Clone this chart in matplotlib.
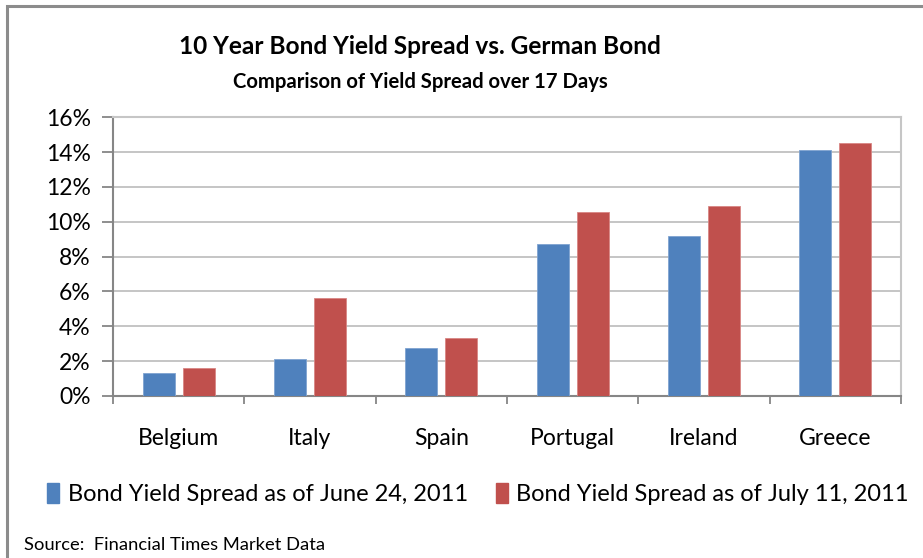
import matplotlib.pyplot as plt
from matplotlib.patches import Rectangle, Patch
import numpy as np

countries = ['Belgium', 'Italy', 'Spain', 'Portugal', 'Ireland', 'Greece']
june_24 = [1.3, 2.1, 2.75, 8.7, 9.2, 14.1]
july_11 = [1.6, 5.6, 3.35, 10.55, 10.9, 14.55]
series_names = ['Bond Yield Spread as of June 24, 2011',
                'Bond Yield Spread as of July 11, 2011']
yticks = [0, 2, 4, 6, 8, 10, 12, 14, 16]

BLUE = '#4F81BD'
RED = '#C0504D'

plt.rcParams['font.family'] = ['Lato', 'DejaVu Sans']

fig = plt.figure(figsize=(9.23, 5.58), dpi=100)
ax = fig.add_axes([113 / 923, 1 - 396 / 558, (901 - 113) / 923, (396 - 117.3) / 558])

# Outer chart frame, running off the right and bottom edges
fig.patches.append(Rectangle((7 / 923, -0.1), 2, 1 - 6 / 558 + 0.1,
                             transform=fig.transFigure, fill=False,
                             edgecolor='#8c8c8c', linewidth=2.2))

x = np.arange(len(countries))
w = 0.245
off = 0.152
ax.bar(x - off, june_24, w, color=BLUE, edgecolor='#7fa3d0', linewidth=0.6, zorder=3)
ax.bar(x + off, july_11, w, color=RED, edgecolor='#d88684', linewidth=0.6, zorder=3)

ax.set_xlim(-0.5, len(countries) - 0.5)
ax.set_ylim(0, 16)
ax.set_yticks(yticks)
ax.set_yticklabels([f'{v}%' for v in yticks], fontsize=16.5)
ax.yaxis.grid(True, color='#c0c0c0', linewidth=1.3, zorder=0)

# Category ticks sit on the boundaries between groups
ax.set_xticks(np.arange(len(countries) + 1) - 0.5)
ax.set_xticklabels([])
ax.set_xticks(x, minor=True)
ax.set_xticklabels(countries, minor=True, fontsize=16.5)
ax.tick_params(axis='x', which='minor', length=0, pad=23)
ax.tick_params(axis='x', which='major', length=6, width=1.3, color='#868686', direction='out')
ax.tick_params(axis='y', length=8, width=1.3, color='#868686', pad=8)

for side in ['left', 'bottom']:
    ax.spines[side].set_color('#868686')
    ax.spines[side].set_linewidth(1.5)
for side in ['top', 'right']:
    ax.spines[side].set_color('#c6c6c6')
    ax.spines[side].set_linewidth(1.5)

fig.text(420 / 923, 1 - 46 / 558, '10 Year Bond Yield Spread vs. German Bond',
         ha='center', va='center', fontsize=17.6, fontweight='bold')
fig.text(420 / 923, 1 - 82 / 558, 'Comparison of Yield Spread over 17 Days',
         ha='center', va='center', fontsize=14.6, fontweight='bold')

handles = [Patch(color=BLUE), Patch(color=RED)]
fig.legend(handles, series_names, loc='center', bbox_to_anchor=(478 / 923, 1 - 494 / 558),
           ncol=2, frameon=False, fontsize=17, handlelength=0.5, handleheight=0.9,
           handletextpad=0.35, columnspacing=1.2)

fig.text(24 / 923, 1 - 545 / 558, 'Source:  Financial Times Market Data',
         ha='left', va='center', fontsize=13.2)

fig.savefig('out.png', dpi=100)
